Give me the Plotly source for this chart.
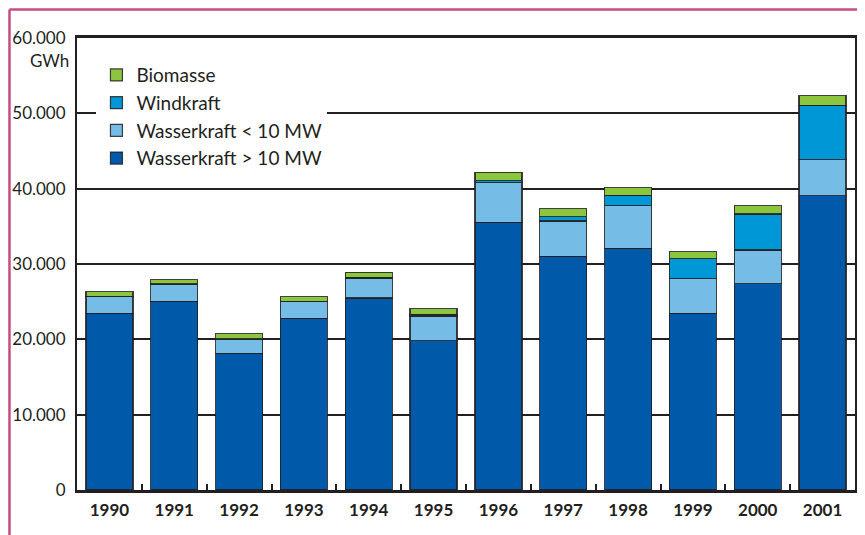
import plotly.graph_objects as go

years = ["1990", "1991", "1992", "1993", "1994", "1995",
         "1996", "1997", "1998", "1999", "2000", "2001"]

# GWh
wasser_gross = [23470, 25060, 18150, 22800, 25500, 19830,
                35550, 31030, 32100, 23470, 27400, 39080]
wasser_klein = [2200, 2260, 1900, 2170, 2610, 3280,
                5220, 4690, 5620, 4600, 4470, 4790]
windkraft = [40, 60, 60, 90, 140, 200,
             270, 580, 1410, 2610, 4780, 7220]
biomasse = [590, 550, 650, 610, 660, 770,
            1150, 1060, 1020, 970, 1070, 1270]

y_ticks = [0, 10000, 20000, 30000, 40000, 50000, 60000]
y_labels = ["0", "10.000", "20.000", "30.000", "40.000", "50.000", "60.000"]

ink = "#231f20"
outline = dict(color="rgba(35,31,32,0.85)", width=1.2)

series = [
    ("Wasserkraft > 10 MW", wasser_gross, "#005aa9"),
    ("Wasserkraft < 10 MW", wasser_klein, "#75bce6"),
    ("Windkraft", windkraft, "#0097d6"),
    ("Biomasse", biomasse, "#8cc63f"),
]

fig = go.Figure()

for name, values, color in series:
    fig.add_trace(
        go.Bar(
            x=years,
            y=values,
            name=name,
            marker=dict(color=color, line=outline)
        )
    )

# the page body adds an 8px margin, so the figure is 8px smaller
fig.update_layout(
    barmode="stack",
    bargap=0.275,
    width=857,
    height=527,
    margin=dict(l=69, r=10, t=30, b=45, autoexpand=False),
    paper_bgcolor="white",
    plot_bgcolor="white",
    font=dict(family="Lato", size=17, color=ink),
    legend=dict(
        traceorder="reversed",
        x=0.025,
        y=0.96,
        xanchor="left",
        yanchor="top",
        bgcolor="white",
        borderwidth=0,
        font=dict(size=19, color=ink)
    ),
    showlegend=True
)

fig.update_yaxes(
    range=[0, 60000],
    tickvals=y_ticks,
    ticktext=y_labels,
    showgrid=True,
    gridcolor=ink,
    gridwidth=1.5,
    zeroline=False,
    showline=True,
    linecolor=ink,
    linewidth=2,
    mirror=True,
    ticks="",
    ticklabelstandoff=6,
    tickfont=dict(size=17, color=ink)
)

fig.update_xaxes(
    showgrid=False,
    showline=True,
    linecolor=ink,
    linewidth=2.5,
    mirror=True,
    ticks="inside",
    tickson="boundaries",
    ticklen=6,
    tickwidth=1.5,
    tickcolor=ink,
    ticklabelstandoff=3,
    tickfont=dict(size=17, color=ink, weight="bold")
)

# unit below the top tick label
fig.add_annotation(
    x=0, xref="paper", xshift=-6,
    y=60000, yref="y", yshift=-22,
    text="GWh",
    showarrow=False,
    xanchor="right",
    font=dict(size=17, color=ink)
)

# pink page frame at the top left
frame = "#c44d86"
fig.add_shape(type="line", xref="paper", yref="paper",
              x0=-0.0868, x1=-0.0868, y0=-0.2, y1=1.063,
              line=dict(color=frame, width=2.5))
fig.add_shape(type="line", xref="paper", yref="paper",
              x0=-0.0868, x1=1.1, y0=1.063, y1=1.063,
              line=dict(color=frame, width=2.5))

fig.write_html("out.html")
